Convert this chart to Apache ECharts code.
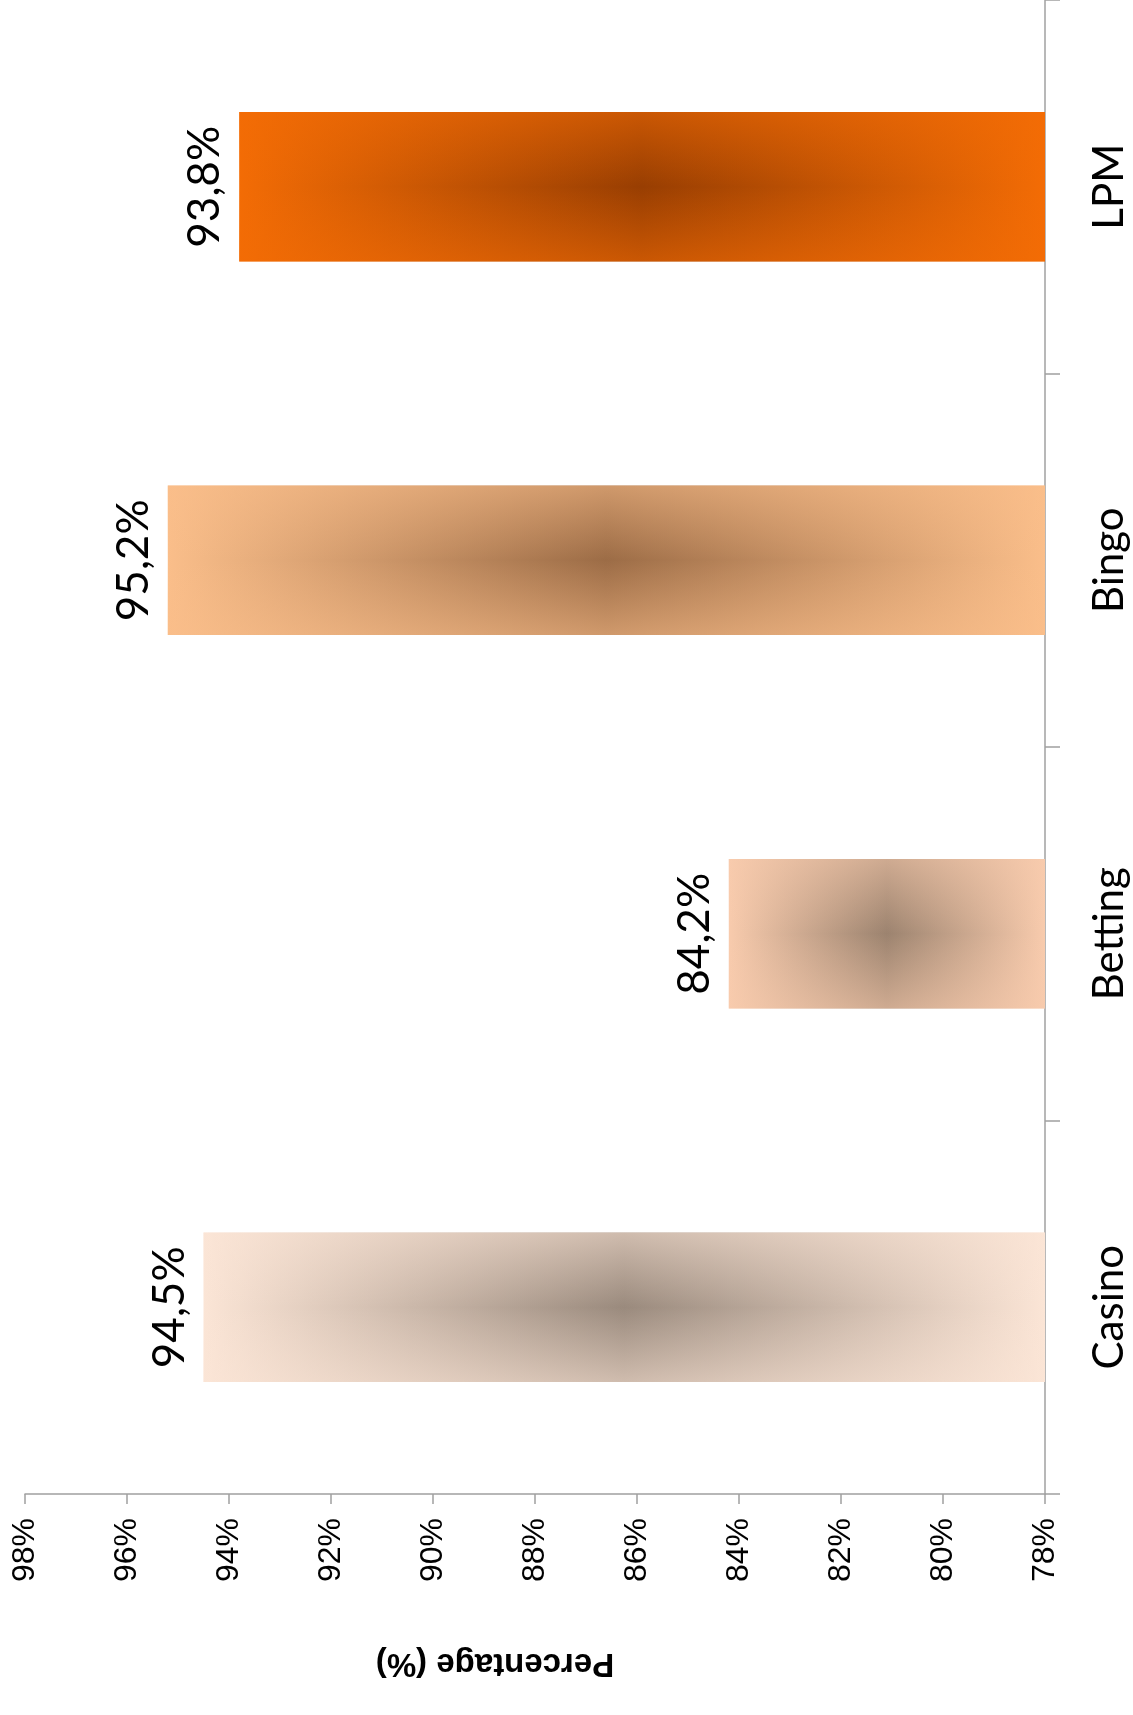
<!DOCTYPE html>
<html>
<head>
<meta charset="utf-8">
<script src="https://cdn.jsdelivr.net/npm/echarts@6/dist/echarts.min.js"></script>
<style>
html,body{margin:0;padding:0;background:#ffffff;}
#c{width:1133px;height:1715px;}
</style>
</head>
<body>
<div id="c"></div>
<script>
// ---- data ----
const categories = ['Casino', 'Betting', 'Bingo', 'LPM'];
const values = [94.5, 84.2, 95.2, 93.8];
const axisMin = 78;
const axisMax = 98;
const axisStep = 2;
const axisTitle = 'Percentage (%)';

// ---- styles ----
const edgeColors = ['#FBE5D6', '#F8CBAD', '#FABE8A', '#F36C05'];
const centerColors = ['#9A8A7D', '#9C836F', '#9C6C46', '#983E02'];

function rgba(hex, a) {
  const n = parseInt(hex.slice(1), 16);
  return 'rgba(' + ((n >> 16) & 255) + ',' + ((n >> 8) & 255) + ',' + (n & 255) + ',' + a + ')';
}

const axisGray = '#A0A0A0';

const chart = echarts.init(document.getElementById('c'), null, { renderer: 'canvas' });

const option = {
  animation: false,
  backgroundColor: '#ffffff',
  grid: { left: 25, right: 88, top: -6, bottom: 221, containLabel: false },
  xAxis: {
    type: 'value',
    min: axisMin,
    max: axisMax,
    interval: axisStep,
    startValue: axisMin,
    inverse: true,
    position: 'bottom',
    axisLine: { show: true, onZero: false, lineStyle: { color: axisGray, width: 1.5 } },
    axisTick: { show: true, length: 10, lineStyle: { color: axisGray, width: 1.5 } },
    splitLine: { show: false },
    axisLabel: {
      rotate: 90,
      margin: 24,
      formatter: v => v + '%',
      color: '#000',
      fontFamily: 'Liberation Sans',
      fontSize: 32
    },
    name: axisTitle,
    nameLocation: 'middle',
    nameGap: 169,
    nameRotate: 180,
    nameTextStyle: {
      fontFamily: 'Liberation Sans',
      fontSize: 33,
      fontWeight: 'bold',
      color: '#000',
      align: 'center',
      verticalAlign: 'middle',
      padding: [0, 0, 0, 80]
    }
  },
  yAxis: {
    type: 'category',
    data: categories,
    position: 'right',
    axisLine: { show: true, onZero: false, lineStyle: { color: axisGray, width: 1.5 } },
    axisTick: { show: true, length: 15, lineStyle: { color: axisGray, width: 1.5 } },
    splitLine: { show: false },
    axisLabel: {
      rotate: 90,
      margin: 43,
      align: 'center',
      verticalAlign: 'top',
      color: '#000',
      fontFamily: 'Lato',
      fontSize: 42
    }
  },
  series: [
    {
      type: 'bar',
      barWidth: '40%',
      data: values.map((v, i) => ({
        value: v,
        itemStyle: {
          color: {
            type: 'linear', x: 0, y: 0, x2: 1, y2: 0,
            colorStops: [
              { offset: 0, color: edgeColors[i] },
              { offset: 0.5, color: centerColors[i] },
              { offset: 1, color: edgeColors[i] }
            ]
          }
        }
      })),
      label: {
        show: true,
        position: 'left',
        distance: 12,
        rotate: 90,
        align: 'center',
        verticalAlign: 'bottom',
        formatter: p => values[p.dataIndex].toFixed(1).replace('.', ',') + '%',
        fontFamily: "'Liberation Sans Narrow', Lato",
        fontSize: 44,
        color: '#000'
      }
    },
    {
      type: 'bar',
      barWidth: '40%',
      barGap: '-100%',
      silent: true,
      z: 3,
      data: values.map((v, i) => ({
        value: v,
        itemStyle: {
          color: {
            type: 'linear', x: 0, y: 0, x2: 0, y2: 1,
            colorStops: [
              { offset: 0, color: rgba(edgeColors[i], 0.55) },
              { offset: 0.5, color: rgba(edgeColors[i], 0) },
              { offset: 1, color: rgba(edgeColors[i], 0.55) }
            ]
          }
        }
      })),
      label: { show: false }
    }
  ]
};

chart.setOption(option);
</script>
</body>
</html>
